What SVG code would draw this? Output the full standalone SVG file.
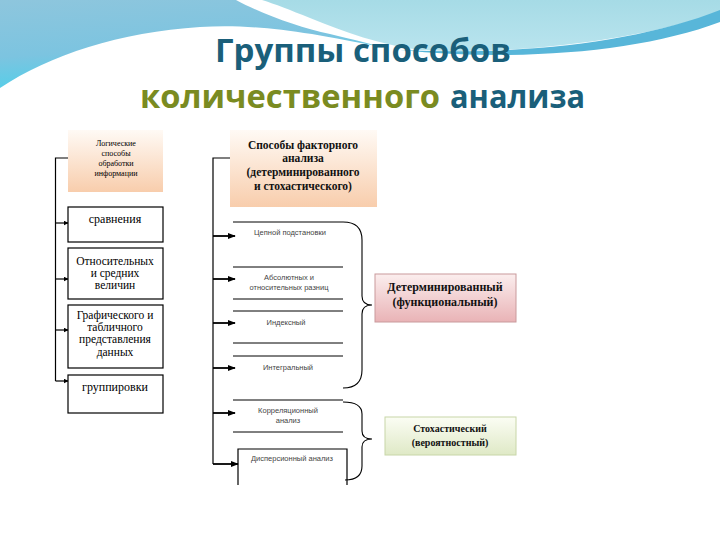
<svg xmlns="http://www.w3.org/2000/svg" width="720" height="540" viewBox="0 0 720 540">
<defs>
<linearGradient id="gBlueL" x1="0" y1="0" x2="0.3" y2="1">
<stop offset="0" stop-color="#8ec6dd"/><stop offset="0.6" stop-color="#7cc4e0"/><stop offset="1" stop-color="#4fd0ea"/>
</linearGradient>
<linearGradient id="gBlueR" x1="0" y1="0" x2="0" y2="1">
<stop offset="0" stop-color="#a6dbe6"/><stop offset="1" stop-color="#b9e4ee"/>
</linearGradient>
<linearGradient id="gPeach" x1="0" y1="0" x2="0" y2="1">
<stop offset="0" stop-color="#fffaf5"/><stop offset="1" stop-color="#f8cdac"/>
</linearGradient>
<linearGradient id="gPink" x1="0" y1="0" x2="0" y2="1">
<stop offset="0" stop-color="#fbeeee"/><stop offset="1" stop-color="#e9b3b6"/>
</linearGradient>
<linearGradient id="gGreen" x1="0" y1="0" x2="0" y2="1">
<stop offset="0" stop-color="#fbfdf4"/><stop offset="1" stop-color="#dfe9c6"/>
</linearGradient>
<marker id="ah" viewBox="0 0 10 10" refX="9" refY="5" markerWidth="5" markerHeight="5" markerUnits="userSpaceOnUse" orient="auto">
<path d="M0,0 L10,5 L0,10 Z" fill="#000"/>
</marker>
<marker id="ah2" viewBox="0 0 10 10" refX="9" refY="5" markerWidth="8" markerHeight="8" markerUnits="userSpaceOnUse" orient="auto">
<path d="M0,1 L10,5 L0,9 Z" fill="#000"/>
</marker>
</defs>
<style>
.box{fill:#fff;stroke:#000;stroke-width:1.2}
.ln{fill:none;stroke:#000;stroke-width:1.2}
.arr{fill:none;stroke:#000;stroke-width:1.2;marker-end:url(#ah)}
.arr2{fill:none;stroke:#000;stroke-width:1.8;marker-end:url(#ah2)}
.brace{fill:none;stroke:#000;stroke-width:1.1}
.sep{stroke:#000;stroke-width:1}
.t{font-family:"Liberation Serif","DejaVu Serif",serif;fill:#000;text-anchor:middle}
.tb{font-family:"Liberation Serif","DejaVu Serif",serif;font-weight:bold;fill:#111;text-anchor:middle}
.ts{font-family:"Liberation Sans","DejaVu Sans",sans-serif;fill:#444;text-anchor:middle;font-size:7.5px}
.title{font-family:"Open Sans","Noto Sans",sans-serif;font-weight:bold;font-size:33px}
</style>
<rect width="720" height="540" fill="#fff"/>
<g id="background">
<path d="M0,0 H236 C262,14 300,28 330,34 C355,40 372,44 385,48 C300,30 250,24 200,27 C120,32 50,55 0,88 Z" fill="url(#gBlueL)"/>
<path d="M262,0 H720 V12 C640,40 520,55 420,50 C380,45 345,32 310,18 C290,10 275,4 262,0 Z" fill="url(#gBlueR)"/>
<path d="M400,50 C520,56 640,42 720,10 V22 C640,52 520,62 400,50 Z" fill="#58b6d9"/>
</g>
<g id="title">
<text class="title" x="363" y="62" text-anchor="middle" fill="#1a5f7a" textLength="296" lengthAdjust="spacingAndGlyphs">Группы способов</text>
<text class="title" x="140" y="108" fill="#7a8b21" textLength="300" lengthAdjust="spacingAndGlyphs">количественного</text>
<text class="title" x="450" y="108" fill="#1a5f7a" textLength="135" lengthAdjust="spacingAndGlyphs">анализа</text>
</g>
<g id="connectors">
<path class="ln" d="M68,158 H55.5 V381"/>
<path class="arr" d="M55.5,223 H68"/>
<path class="arr" d="M55.5,279 H68"/>
<path class="arr" d="M55.5,330 H68"/>
<path class="arr" d="M55.5,381 H68"/>
<path class="ln" d="M230,158 H213 V464"/>
<path class="arr2" d="M213,236 H235"/>
<path class="arr2" d="M213,279 H235"/>
<path class="arr2" d="M213,323 H235"/>
<path class="arr2" d="M213,368 H235"/>
<path class="arr2" d="M213,413 H235"/>
<path class="arr2" d="M213,464 H238"/>
<path class="brace" d="M343,222 Q362,222 362,240 V296 Q362,305 372,305 Q362,305 362,314 V370 Q362,388 343,388"/>
<path class="brace" d="M343,402 Q362,402 362,414 V431 Q362,439 372,439 Q362,439 362,447 V466 Q362,480 345,480"/>
</g>
<g id="n-logic">
<rect x="68" y="130" width="95" height="62" fill="url(#gPeach)"/>
<text class="t" font-size="8" x="116" y="146">Логические</text>
<text class="t" font-size="8" x="116" y="156">способы</text>
<text class="t" font-size="8" x="116" y="166">обработки</text>
<text class="t" font-size="8" x="116" y="176">информации</text>
</g>
<g id="n-compare">
<rect class="box" x="68" y="207" width="95" height="35"/>
<text class="t" font-size="12" x="115" y="223">сравнения</text>
</g>
<g id="n-relative">
<rect class="box" x="68" y="248" width="95" height="51"/>
<text class="t" font-size="11.5" x="115" y="265">Относительных</text>
<text class="t" font-size="11.5" x="115" y="277">и средних</text>
<text class="t" font-size="11.5" x="115" y="289">величин</text>
</g>
<g id="n-graphic">
<rect class="box" x="68" y="305" width="95" height="63"/>
<text class="t" font-size="11.5" x="115" y="319">Графического и</text>
<text class="t" font-size="11.5" x="115" y="331">табличного</text>
<text class="t" font-size="11.5" x="115" y="343">представления</text>
<text class="t" font-size="11.5" x="115" y="356">данных</text>
</g>
<g id="n-group">
<rect class="box" x="68" y="375" width="95" height="38"/>
<text class="t" font-size="12" x="115" y="391">группировки</text>
</g>
<g id="n-factor">
<rect x="230" y="130" width="147" height="77" fill="url(#gPeach)"/>
<text class="tb" font-size="11.5" x="303" y="149">Способы факторного</text>
<text class="tb" font-size="11.5" x="303" y="162">анализа</text>
<text class="tb" font-size="11.5" x="303" y="176">(детерминированного</text>
<text class="tb" font-size="11.5" x="303" y="190">и стохастического)</text>
</g>
<g id="n-chain">
<line class="sep" x1="233" y1="222" x2="343" y2="222"/>
<text class="ts" x="290" y="235">Цепной подстановки</text>
</g>
<g id="n-abs">
<line class="sep" x1="233" y1="267" x2="343" y2="267"/>
<text class="ts" x="289" y="280">Абсолютных и</text>
<text class="ts" x="289" y="290">относительных разниц</text>
<line class="sep" x1="233" y1="299" x2="343" y2="299"/>
</g>
<g id="n-index">
<line class="sep" x1="233" y1="311" x2="343" y2="311"/>
<text class="ts" x="286" y="325">Индексный</text>
<line class="sep" x1="233" y1="343" x2="343" y2="343"/>
</g>
<g id="n-integral">
<line class="sep" x1="233" y1="356" x2="343" y2="356"/>
<text class="ts" x="288" y="370">Интегральный</text>
</g>
<g id="n-corr">
<line class="sep" x1="233" y1="400" x2="343" y2="400"/>
<text class="ts" x="288" y="413">Корреляционный</text>
<text class="ts" x="288" y="423">анализ</text>
<line class="sep" x1="233" y1="432" x2="343" y2="432"/>
</g>
<g id="n-disp">
<path class="ln" d="M238,485 V449 H347 V485"/>
<text class="ts" x="292" y="461">Дисперсионный анализ</text>
</g>
<g id="n-determ">
<rect x="375" y="274" width="141" height="48" fill="url(#gPink)" stroke="#c99a9c" stroke-width="1"/>
<text class="tb" font-size="12" x="445" y="291">Детерминированный</text>
<text class="tb" font-size="12" x="445" y="306">(функциональный)</text>
</g>
<g id="n-stoch">
<rect x="385" y="417" width="131" height="38" fill="url(#gGreen)" stroke="#c8d6a8" stroke-width="1"/>
<text class="tb" font-size="10" x="450" y="432">Стохастический</text>
<text class="tb" font-size="10" x="450" y="446">(вероятностный)</text>
</g>
</svg>
